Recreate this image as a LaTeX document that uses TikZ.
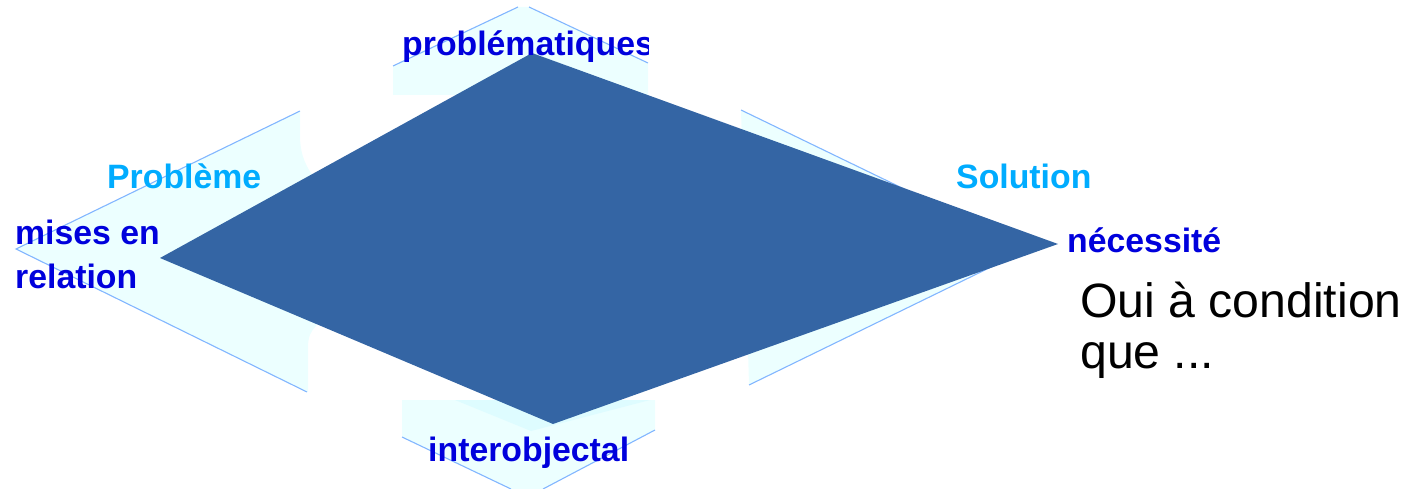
\documentclass[tikz,border=0pt]{standalone}
\usepackage{fontspec}
\setmainfont{Liberation Sans}
\definecolor{diamblue}{RGB}{52,101,164}
\definecolor{bgcyan}{RGB}{236,255,255}
\definecolor{bgcyanB}{RGB}{222,252,255}
\definecolor{bgedge}{RGB}{130,182,255}
\definecolor{lbldark}{RGB}{0,0,220}
\definecolor{lbllight}{RGB}{0,172,255}
\tikzset{
  bgfill/.style={fill=bgcyan},
  bgline/.style={draw=bgedge, line width=1.1pt},
  lbl/.style={inner sep=0pt, anchor=base west, font=\fontsize{33.8}{40}\selectfont\bfseries},
  darklbl/.style={lbl, text=lbldark},
  lightlbl/.style={lbl, text=lbllight},
  plain/.style={inner sep=0pt, anchor=base west, font=\fontsize{48.2}{51}\selectfont, text=black}
}
\begin{document}
\begin{tikzpicture}[x=1pt,y=-1pt]
\useasboundingbox (0,0) rectangle (1424,489);
% top chevron
\fill[bgfill] (393,66) -- (518,7) -- (529,7) -- (648,63) -- (648,95) -- (393,95) -- cycle;
\draw[bgline] (393,66) -- (518,7);
\draw[bgline] (529,7) -- (648,63);
% left chevron
\fill[bgfill] (300,111) -- (16,249) -- (307,392) -- (308,392) -- (308,347)
  .. controls (308,337) and (311,331) .. (316,326) -- (340,300) -- (340,200) -- (313,176)
  .. controls (303,162) and (300,150) .. (300,135) -- cycle;
\draw[bgline] (300,111) -- (16,249) -- (307,392);
% right chevron
\fill[bgfill] (741,110) -- (1028,249) -- (749,385) -- cycle;
\draw[bgline] (741,110) -- (1028,249) -- (749,385);
% bottom chevron
\fill[bgfill] (402,400) -- (655,400) -- (655,430) -- (543,489) -- (511,489) -- (402,437) -- cycle;
\fill[bgcyanB] (455,400) -- (531,431) -- (650,400) -- cycle;
\draw[bgline] (402,437) -- (511,489);
\draw[bgline] (655,430) -- (543,489);
% diamond
\fill[diamblue] (160,258) -- (532,53) -- (1058,244) -- (553,424) -- cycle;
% labels
\begin{scope}
\clip (380,0) rectangle (648,100);
\node[darklbl] (probl) at (402,56) {problématiques};
\end{scope}
\node[lightlbl] (probleme) at (107,189) {Problème};
\node[lightlbl] (solution) at (956,189) {Solution};
\node[darklbl] (mises) at (15,244) {mises en};
\node[darklbl] (relation) at (15,288) {relation};
\node[darklbl] (necess) at (1067,252) {nécessité};
\node[darklbl] (inter) at (428,461) {interobjectal};
\node[plain] (oui) at (1080,317) {Oui à condition};
\node[plain] (que) at (1080,368) {que ...};
\end{tikzpicture}
\end{document}
